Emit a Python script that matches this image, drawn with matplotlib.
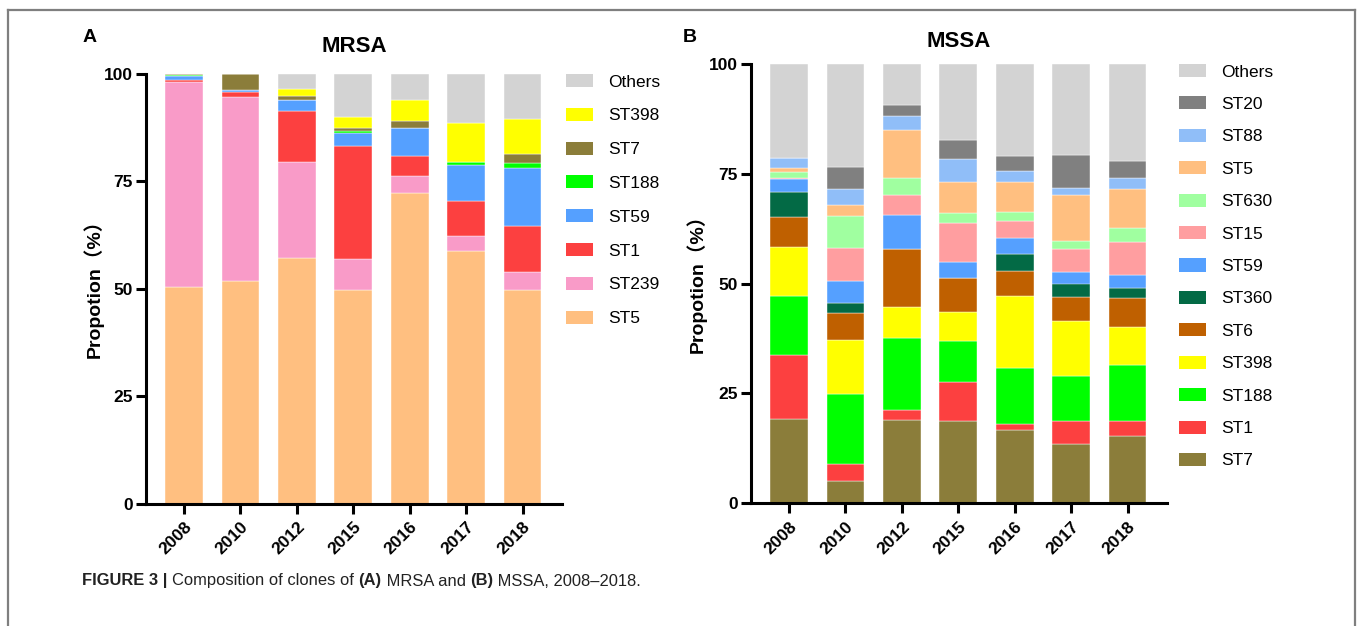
import matplotlib
matplotlib.use("Agg")
import matplotlib.pyplot as plt
from matplotlib.patches import Patch
from matplotlib.lines import Line2D
import numpy as np

plt.rcParams['font.family'] = ['Liberation Sans', 'Noto Sans CJK SC', 'DejaVu Sans']

years = ['2008', '2010', '2012', '2015', '2016', '2017', '2018']

# MRSA clone shares (%), stacked bottom -> top
mrsa_clones = ['ST5', 'ST239', 'ST1', 'ST59', 'ST188', 'ST7', 'ST398', 'Others']
mrsa_st5 = [50.3, 51.8, 57.2, 49.7, 72.3, 58.7, 49.6]
mrsa_st239 = [47.9, 42.9, 22.2, 7.2, 3.9, 3.6, 4.2]
mrsa_st1 = [0.5, 1.1, 12.0, 26.4, 4.8, 8.1, 10.8]
mrsa_st59 = [0.8, 0.5, 2.5, 2.9, 6.4, 8.3, 13.6]
mrsa_st188 = [0.2, 0.0, 0.0, 0.5, 0.0, 0.9, 1.0]
mrsa_st7 = [0.3, 3.7, 1.0, 0.7, 1.6, 0.0, 2.1]
mrsa_st398 = [0.0, 0.0, 1.6, 2.5, 4.9, 9.1, 8.3]
mrsa_others = [0.0, 0.0, 3.5, 10.1, 6.1, 11.3, 10.4]
mrsa_values = [mrsa_st5, mrsa_st239, mrsa_st1, mrsa_st59, mrsa_st188,
               mrsa_st7, mrsa_st398, mrsa_others]

# MSSA clone shares (%), stacked bottom -> top
mssa_clones = ['ST7', 'ST1', 'ST188', 'ST398', 'ST6', 'ST360', 'ST59',
               'ST15', 'ST630', 'ST5', 'ST88', 'ST20', 'Others']
mssa_st7 = [19.2, 5.0, 18.9, 18.6, 16.6, 13.4, 15.3]
mssa_st1 = [14.6, 3.9, 2.3, 8.9, 1.4, 5.3, 3.4]
mssa_st188 = [13.4, 15.9, 16.3, 9.5, 12.7, 10.2, 12.7]
mssa_st398 = [11.2, 12.3, 7.1, 6.5, 16.4, 12.6, 8.8]
mssa_st6 = [6.7, 6.2, 13.3, 7.7, 5.8, 5.5, 6.4]
mssa_st360 = [5.7, 2.3, 0.0, 0.0, 3.8, 3.0, 2.4]
mssa_st59 = [3.0, 5.0, 7.8, 3.6, 3.7, 2.6, 3.0]
mssa_st15 = [0.3, 7.5, 4.5, 8.9, 3.9, 5.3, 7.4]
mssa_st630 = [1.2, 7.3, 3.9, 2.4, 2.0, 1.7, 3.3]
mssa_st5 = [0.9, 2.5, 10.9, 7.1, 6.9, 10.6, 8.8]
mssa_st88 = [2.4, 3.7, 3.2, 5.2, 2.5, 1.6, 2.5]
mssa_st20 = [0.0, 4.9, 2.4, 4.3, 3.3, 7.5, 3.8]
mssa_others = [21.4, 23.5, 9.4, 17.3, 21.0, 20.7, 22.2]
mssa_values = [mssa_st7, mssa_st1, mssa_st188, mssa_st398, mssa_st6,
               mssa_st360, mssa_st59, mssa_st15, mssa_st630, mssa_st5,
               mssa_st88, mssa_st20, mssa_others]

colors = {
    'Others': '#D3D3D3', 'ST398': '#FFFF00', 'ST7': '#8B7D3A',
    'ST188': '#00FF00', 'ST59': '#55A0FF', 'ST1': '#FC4040',
    'ST239': '#F99BC8', 'ST5': '#FFBF80', 'ST20': '#808080',
    'ST88': '#90BEF8', 'ST630': '#A0FFA0', 'ST15': '#FF9EA0',
    'ST360': '#036A45', 'ST6': '#BF6000',
}

W, H = 1357, 626
fig = plt.figure(figsize=(W / 100, H / 100), dpi=100)


def fx(px):
    return px / W


def fy(py):
    return 1 - py / H


def draw_panel(ax, clones, values, title, title_pad):
    x = np.arange(len(years))
    bottom = np.zeros(len(years))
    for name, vals in zip(clones, values):
        vals = np.array(vals)
        ax.bar(x, vals, width=0.67, bottom=bottom, color=colors[name],
               edgecolor='white', linewidth=0.3)
        bottom += vals

    ax.set_xlim(-0.675, len(years) - 1 + 0.7)
    ax.set_ylim(0, 100)
    ax.set_yticks([0, 25, 50, 75, 100])
    ax.set_xticks(x)
    ax.set_xticklabels(years, rotation=45, ha='right', rotation_mode='anchor')
    for lab in ax.get_xticklabels() + ax.get_yticklabels():
        lab.set_fontweight('bold')
        lab.set_fontsize(12.5)
    ax.tick_params(axis='both', direction='out', width=2.2, length=7.5,
                   pad=2, colors='black')
    ax.tick_params(axis='x', pad=4)
    for s in ['top', 'right']:
        ax.spines[s].set_visible(False)
    for s in ['left', 'bottom']:
        ax.spines[s].set_linewidth(2.2)
    ax.set_title(title, fontsize=16, fontweight='bold', pad=title_pad)

    handles = [Patch(facecolor=colors[n], edgecolor='none', label=n)
               for n in clones[::-1]]
    return handles


legend_kw = dict(loc='upper left', frameon=False, fontsize=12.5,
                 handlelength=1.55, handleheight=0.78, handletextpad=0.9,
                 borderpad=0, borderaxespad=0)

# Panel A
axA = fig.add_axes([fx(146), fy(503.5), fx(562 - 146), (503.5 - 74) / H])
hA = draw_panel(axA, mrsa_clones, mrsa_values, 'MRSA', 16)
fig.legend(handles=hA, bbox_to_anchor=(fx(566), fy(74)), labelspacing=1.05,
           **legend_kw)
fig.text(fx(93), fy(284), 'Propotion（%）', rotation=90, fontsize=14,
         fontweight='bold', ha='center', va='center')
fig.text(fx(83), fy(37), 'A', fontsize=14, fontweight='bold',
         ha='left', va='center')

# Panel B
axB = fig.add_axes([fx(751), fy(503), fx(1167 - 751), (503 - 64) / H])
hB = draw_panel(axB, mssa_clones, mssa_values, 'MSSA', 12)
fig.legend(handles=hB, bbox_to_anchor=(fx(1179), fy(64)), labelspacing=0.97,
           **legend_kw)
fig.text(fx(696), fy(279), 'Propotion（%）', rotation=90, fontsize=14,
         fontweight='bold', ha='center', va='center')
fig.text(fx(683), fy(37), 'B', fontsize=14, fontweight='bold',
         ha='left', va='center')

# figure frame
frame_kw = dict(color='#7F7F7F', linewidth=1.6, transform=fig.transFigure)
fig.add_artist(Line2D([fx(8), fx(1355)], [fy(10), fy(10)], **frame_kw))
fig.add_artist(Line2D([fx(8), fx(8)], [fy(10), 0], **frame_kw))
fig.add_artist(Line2D([fx(1355), fx(1355)], [fy(10), 0], **frame_kw))

# caption
cap_y = fy(581)
t1 = fig.text(fx(82), cap_y, 'FIGURE 3 | ', fontsize=11.9, fontweight='bold',
              ha='left', va='center', color='#222222')
fig.canvas.draw()
r = fig.canvas.get_renderer()
xpos = t1.get_window_extent(r).x1
parts = [('Composition of clones of ', 'normal'), ('(A)', 'bold'),
         (' MRSA and ', 'normal'), ('(B)', 'bold'),
         (' MSSA, 2008–2018.', 'normal')]
for txt, wgt in parts:
    t = fig.text(xpos / W, cap_y, txt, fontsize=11.9, fontweight=wgt,
                 ha='left', va='center', color='#222222')
    xpos = t.get_window_extent(r).x1

fig.savefig('out.png', dpi=100)
